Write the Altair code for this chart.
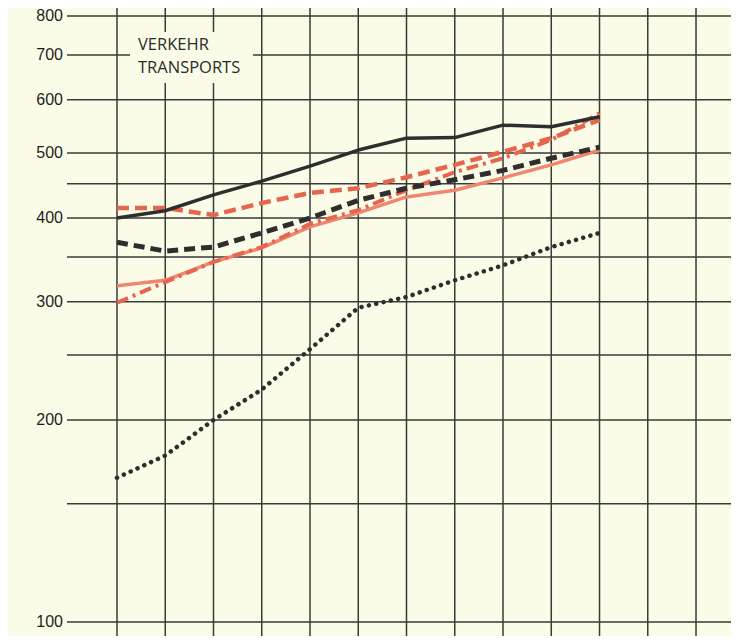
import altair as alt
import pandas as pd

# ---- data (index positions 0..10 along the x grid) ----
positions = list(range(11))
black_solid = [400, 410, 433, 454, 478, 505, 526, 527, 550, 547, 566]
black_dashed = [368, 357, 362, 380, 400, 425, 443, 456, 471, 491, 510]
black_dotted = [164, 177, 200, 222, 255, 294, 305, 323, 340, 362, 380]
red_dashed = [414, 414, 404, 421, 436, 443, 460, 480, 502, 526, 560]
red_dashdot = [299, 321, 344, 362, 392, 411, 440, 468, 491, 523, 573]
red_solid = [317, 323, 344, 361, 388, 407, 430, 440, 459, 480, 505]

grid_values = [100, 150, 200, 250, 300, 350, 400, 450, 500, 600, 700, 800]
label_values = [100, 200, 300, 400, 500, 600, 700, 800]
grid_columns = list(range(13))
title_lines = ["VERKEHR", "TRANSPORTS"]

BG = "#fbfce8"
INK = "#2e2e2e"
RED = "#e5654e"
RED_LIGHT = "#ee8670"

W, H = 723, 628
xscale = alt.Scale(domain=[-2.259, 12.725], nice=False, zero=False)
yscale = alt.Scale(type="log", domain=[95.3, 822.2], nice=False)

hgrid = alt.Chart(pd.DataFrame({"v": grid_values})).mark_rule(
    color="#3a3a3a", strokeWidth=1.5
).encode(
    y=alt.Y("v:Q", scale=yscale, axis=None),
    x=alt.value(59), x2=alt.value(W),
)

vgrid = alt.Chart(pd.DataFrame({"k": grid_columns})).mark_rule(
    color="#3a3a3a", strokeWidth=1.5
).encode(
    x=alt.X("k:Q", scale=xscale, axis=None),
    y=alt.value(0), y2=alt.value(H),
)

labels = alt.Chart(pd.DataFrame({"v": label_values})).mark_text(
    align="right", baseline="middle", font="Liberation Sans", fontSize=16,
    color="#1e1e1e",
).encode(
    y=alt.Y("v:Q", scale=yscale, axis=None),
    x=alt.value(55),
    text=alt.Text("v:Q", format="d"),
)

box = alt.Chart(pd.DataFrame({"a": [0]})).mark_rect(color=BG).encode(
    x=alt.value(122), x2=alt.value(245), y=alt.value(24), y2=alt.value(75)
)

title = alt.Chart(pd.DataFrame({"a": [0]})).mark_text(
    align="left", baseline="alphabetic", font="Open Sans", fontSize=16.5,
    color="#2a2a2a", lineHeight=23,
).encode(
    x=alt.value(130), y=alt.value(42), text=alt.value(title_lines)
)


def series(values, color, width, dash=None, cap="butt"):
    df = pd.DataFrame({"k": positions, "v": values})
    kw = dict(color=color, strokeWidth=width, strokeCap=cap, strokeJoin="round")
    if dash is not None:
        kw["strokeDash"] = dash
    return alt.Chart(df).mark_line(**kw).encode(
        x=alt.X("k:Q", scale=xscale, axis=None),
        y=alt.Y("v:Q", scale=yscale, axis=None),
    )


lines = [
    series(red_solid, RED_LIGHT, 3.5),
    series(red_dashdot, RED, 4, [12, 5, 3, 5]),
    series(red_dashed, RED, 4.5, [12, 6]),
    series(black_dashed, INK, 5, [11, 6]),
    series(black_dotted, INK, 4.5, [0.1, 7.4], cap="round"),
    series(black_solid, INK, 3.5),
]

chart = alt.layer(hgrid, vgrid, labels, box, title, *lines).properties(
    width=W, height=H, padding=0, background=BG,
    autosize=alt.AutoSizeParams(type="none"),
).configure_view(stroke=None)

chart.save("out.html", embed_options={"renderer": "svg", "actions": False})
